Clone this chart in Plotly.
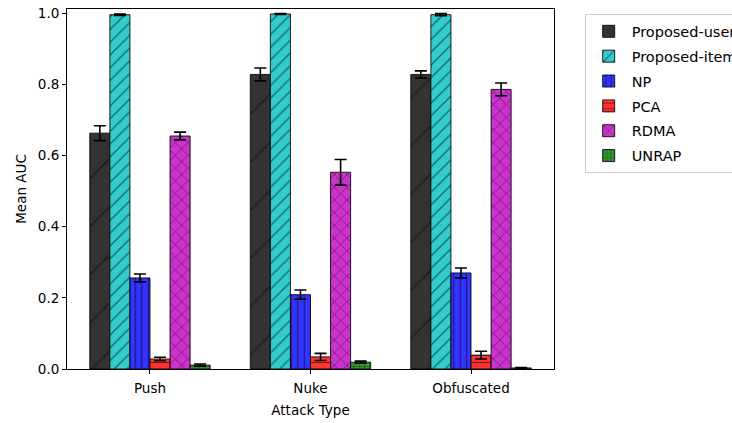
import plotly.graph_objects as go

categories = ["Push", "Nuke", "Obfuscated"]
series_names = ["Proposed-user", "Proposed-item", "NP", "PCA", "RDMA", "UNRAP"]
mean_auc = {
    "Proposed-user": [0.663, 0.828, 0.828],
    "Proposed-item": [0.996, 0.998, 0.996],
    "NP": [0.256, 0.209, 0.270],
    "PCA": [0.028, 0.034, 0.039],
    "RDMA": [0.655, 0.553, 0.786],
    "UNRAP": [0.011, 0.019, 0.003],
}
std_auc = {
    "Proposed-user": [0.021, 0.018, 0.010],
    "Proposed-item": [0.002, 0.001, 0.003],
    "NP": [0.011, 0.013, 0.014],
    "PCA": [0.005, 0.010, 0.011],
    "RDMA": [0.011, 0.036, 0.018],
    "UNRAP": [0.003, 0.003, 0.001],
}
y_ticks = [0.0, 0.2, 0.4, 0.6, 0.8, 1.0]

colors = ["#333333", "#33cccc", "#3333ff", "#ff3333", "#cc33cc", "#339933"]
patterns = [("/", 34, 0.04), ("/", 9, 0.15), ("|", 6.5, 0.18), ("-", 7, 0.17),
            ("x", 9, 0.16), ("+", 5, 0.22)]

fig = go.Figure()
for name, col, (shape, size, sol) in zip(series_names, colors, patterns):
    fig.add_trace(go.Bar(
        name=name, x=categories, y=mean_auc[name],
        legendgroup=name,
        marker=dict(color=col, line=dict(color="rgba(0,0,0,0.85)", width=1),
                    pattern=dict(shape=shape, size=size, fgcolor="black",
                                 solidity=sol, fillmode="overlay")),
        error_y=dict(type="data", array=std_auc[name], color="black",
                     thickness=1.6, width=6),
    ))

tickfont = dict(family="DejaVu Sans", size=13.5, color="black")
fig.update_layout(
    width=732, height=423,
    margin=dict(l=67, r=178, t=9, b=54, autoexpand=False),
    plot_bgcolor="white", paper_bgcolor="white",
    font=dict(family="DejaVu Sans", size=13.5, color="black"),
    barmode="group", bargap=0.25, bargroupgap=0,
    showlegend=True,
    legend=dict(x=1.063, y=0.985, xanchor="left", yanchor="top",
                bordercolor="#cccccc", borderwidth=1, bgcolor="white",
                font=dict(size=14.5), tracegroupgap=3, itemwidth=36,
                traceorder="grouped"),
    xaxis=dict(type="category", range=[-0.517, 2.517], tickfont=tickfont,
               showline=True, linecolor="black", linewidth=1, mirror=True,
               ticks="outside", ticklen=4, tickcolor="black", ticklabelstandoff=3,
               title=dict(text="Attack Type", standoff=10, font=dict(size=13.5)),
               showgrid=False),
    yaxis=dict(range=[0, 1.012], tickvals=y_ticks, tickformat=".1f", tickfont=tickfont,
               showline=True, linecolor="black", linewidth=1, mirror=True,
               ticks="outside", ticklen=4, tickcolor="black",
               title=dict(text="Mean AUC", standoff=8, font=dict(size=13.5)),
               showgrid=False, zeroline=False),
)

fig.write_html("out.html")
